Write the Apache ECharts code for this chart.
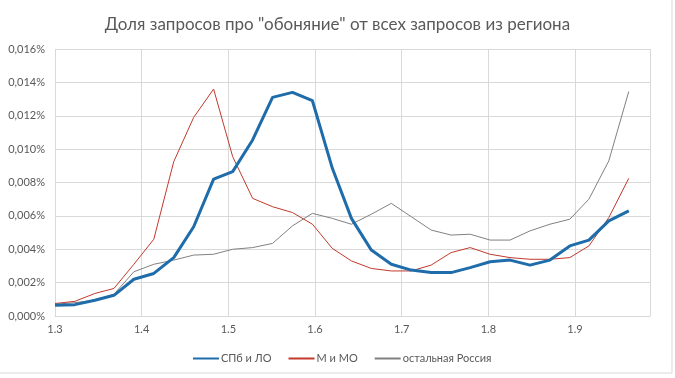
<!DOCTYPE html>
<html>
<head>
<meta charset="utf-8">
<script src="https://cdn.jsdelivr.net/npm/echarts@6/dist/echarts.min.js"></script>
<style>
  html, body { margin: 0; padding: 0; background: #fff; }
  #chart { width: 675px; height: 378px; }
</style>
</head>
<body>
<div id="chart"></div>
<script>
// x values
var xValues = [1.300, 1.323, 1.346, 1.368, 1.391, 1.414, 1.437, 1.460, 1.483, 1.505,
  1.528, 1.551, 1.574, 1.597, 1.620, 1.642, 1.665, 1.688, 1.711, 1.734,
  1.757, 1.779, 1.802, 1.825, 1.848, 1.871, 1.894, 1.916, 1.939, 1.962];

// values in percent
var spb = [0.00065, 0.00068, 0.00094, 0.00124, 0.0022, 0.00255, 0.0035, 0.00535, 0.0082, 0.00865,
  0.01055, 0.0131, 0.0134, 0.0129, 0.00885, 0.00585, 0.00395, 0.0031, 0.00275, 0.0026,
  0.0026, 0.0029, 0.00325, 0.00335, 0.00305, 0.00335, 0.0042, 0.00455, 0.0057, 0.0063];
var msk = [0.00075, 0.00088, 0.00135, 0.00165, 0.0031, 0.0046, 0.00925, 0.0119, 0.0136, 0.00955,
  0.00705, 0.00655, 0.0062, 0.0055, 0.00405, 0.0033, 0.00285, 0.0027, 0.0027, 0.00305,
  0.0038, 0.0041, 0.0037, 0.0035, 0.0034, 0.0034, 0.0035, 0.0042, 0.0059, 0.00825];
var rest = [0.0007, 0.0008, 0.00095, 0.0013, 0.00265, 0.0031, 0.00335, 0.00365, 0.0037, 0.0040,
  0.0041, 0.00435, 0.0054, 0.00615, 0.00585, 0.0055, 0.0061, 0.00675, 0.00595, 0.00515,
  0.00485, 0.0049, 0.00455, 0.00455, 0.0051, 0.0055, 0.0058, 0.007, 0.0093, 0.01345];

var seriesNames = ["СПб и ЛО", "М и МО", "остальная Россия"];

function pairs(ys) {
  return ys.map(function (y, i) { return [xValues[i], y]; });
}

var myChart = echarts.init(document.getElementById("chart"));
var font = "Lato, 'Open Sans', sans-serif";
myChart.setOption({
  animation: false,
  title: {
    text: 'Доля запросов про "обоняние" от всех запросов из региона',
    left: "center",
    top: 11,
    textStyle: { fontFamily: font, fontSize: 17, fontWeight: "normal", color: "#595959" }
  },
  grid: { left: 55, right: 25, top: 49, bottom: 62 },
  legend: {
    data: seriesNames,
    bottom: 9,
    left: 187,
    itemWidth: 26,
    itemHeight: 10,
    itemGap: 16,
    itemStyle: { opacity: 0 },
    textStyle: { fontFamily: font, fontSize: 11, color: "#595959", padding: [0, 0, 0, -3] }
  },
  xAxis: {
    type: "value",
    min: 1.3,
    max: 1.9865,
    interval: 0.1,
    axisLine: { lineStyle: { color: "#d9d9d9" } },
    axisTick: { show: false },
    splitLine: { show: true, lineStyle: { color: "#d9d9d9" } },
    axisLabel: {
      showMaxLabel: false,
      fontFamily: font, fontSize: 11, color: "#595959", margin: 8,
      formatter: function (v) { return v.toFixed(1); }
    }
  },
  yAxis: {
    type: "value",
    min: 0,
    max: 0.016,
    interval: 0.002,
    axisLine: { show: false },
    axisTick: { show: false },
    splitLine: { lineStyle: { color: "#d9d9d9" } },
    axisLabel: {
      fontFamily: font, fontSize: 11, color: "#595959", margin: 10,
      formatter: function (v) { return v.toFixed(3).replace(".", ",") + "%"; }
    }
  },
  series: [
    {
      name: seriesNames[0], type: "line", data: pairs(spb), symbol: "none",
      lineStyle: { width: 3, color: "#1f6cab" }, itemStyle: { color: "#1f6cab" }, z: 3
    },
    {
      name: seriesNames[1], type: "line", data: pairs(msk), symbol: "none",
      lineStyle: { width: 1, color: "#c0392b" }, itemStyle: { color: "#c0392b" }, z: 2
    },
    {
      name: seriesNames[2], type: "line", data: pairs(rest), symbol: "none",
      lineStyle: { width: 1, color: "#808080" }, itemStyle: { color: "#808080" }, z: 1
    }
  ],
  graphic: [{
    type: "rect",
    shape: { x: -1, y: -1, width: 673, height: 374 },
    style: { fill: "none", stroke: "#d9d9d9", lineWidth: 1 },
    silent: true
  }]
});
</script>
</body>
</html>
